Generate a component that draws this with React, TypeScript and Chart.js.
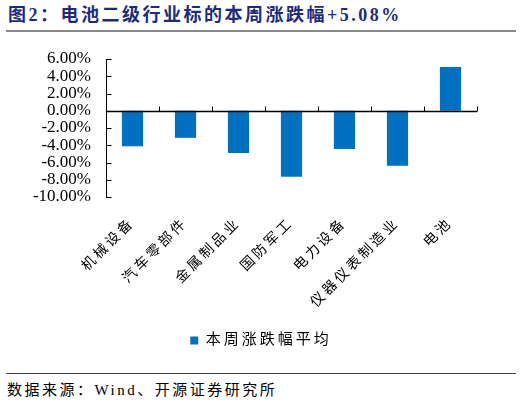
import { useEffect, useRef } from "react";
import { Chart, registerables } from "chart.js";

Chart.register(...registerables);

// data
const categories = ["机械设备", "汽车零部件", "金属制品业", "国防军工", "电力设备", "仪器仪表制造业", "电池"];
const weeklyChange = [-4.12, -3.14, -4.9, -7.65, -4.43, -6.39, 5.08];
const seriesLabel = "本周涨跌幅平均";
const yMin = -10;
const yMax = 6;
const yStep = 2;

const cjkFont = "'Liberation Serif', 'Noto Sans CJK SC', serif";

// spaced text for x labels + legend, plain for y labels; axis lines and inward tick marks
const axisMarks = {
    id: "axisMarks",
    beforeLayout(chart: any) {
        chart.ctx.letterSpacing = "3px";
    },
    beforeDraw(chart: any) {
        chart.ctx.letterSpacing = "3px";
    },
    afterDatasetsDraw(chart: any) {
        chart.ctx.letterSpacing = "0px";
    },
    afterDraw(chart: any) {
        const { ctx, chartArea } = chart;
        const x = chart.scales.x;
        const y = chart.scales.y;
        const left = Math.round(chartArea.left) + 0.5;
        const y0 = Math.round(y.getPixelForValue(0)) + 0.5;
        ctx.save();
        ctx.strokeStyle = "#000";
        ctx.lineWidth = 1;
        ctx.beginPath();
        ctx.moveTo(left, Math.round(y.getPixelForValue(yMax)));
        ctx.lineTo(left, Math.round(y.getPixelForValue(yMin)) + 1);
        y.ticks.forEach((t: any) => {
            const py = Math.round(y.getPixelForValue(t.value)) + 0.5;
            ctx.moveTo(left, py);
            ctx.lineTo(left + 5, py);
        });
        const n = categories.length;
        for (let i = 0; i < n; i++) {
            const bx = i < n - 1
                ? (x.getPixelForValue(i) + x.getPixelForValue(i + 1)) / 2
                : chartArea.right;
            const px = Math.round(bx) + 0.5;
            ctx.moveTo(px, y0);
            ctx.lineTo(px, y0 - 5);
        }
        ctx.stroke();
        ctx.lineWidth = 1.5;
        ctx.beginPath();
        ctx.moveTo(left, y0);
        ctx.lineTo(chartArea.right, y0);
        ctx.stroke();
        ctx.restore();
    },
};

export const App = () => {
    const canvasRef: any = useRef(null);

    useEffect(() => {
        const ctx = canvasRef.current.getContext("2d");
        const myChart = new Chart(ctx, {
            type: "bar",
            data: {
                labels: categories,
                datasets: [{
                    label: seriesLabel,
                    data: weeklyChange,
                    backgroundColor: "#0070C0",
                    borderWidth: 0,
                    categoryPercentage: 1,
                    barPercentage: 0.4,
                }],
            },
            options: {
                animation: false,
                responsive: false,
                layout: {
                    padding: { left: 0, right: 0, top: 24, bottom: 0 },
                },
                scales: {
                    x: {
                        grid: { display: false, drawTicks: false },
                        border: { display: false },
                        ticks: {
                            autoSkip: false,
                            maxRotation: 45,
                            minRotation: 45,
                            padding: 18,
                            color: "#000",
                            font: { family: cjkFont, size: 14 },
                        },
                        afterFit: (s: any) => {
                            s.height = 126;
                        },
                    },
                    y: {
                        min: yMin,
                        max: yMax,
                        grid: { display: false, drawTicks: false },
                        border: { display: false },
                        ticks: {
                            z: 1,
                            autoSkip: false,
                            stepSize: yStep,
                            padding: 15,
                            color: "#000",
                            font: { family: "'Liberation Serif', serif", size: 17, lineHeight: 1 },
                            callback: (v: any) => Number(v).toFixed(2) + "%",
                        },
                        afterFit: (s: any) => {
                            s.width = 106;
                        },
                    },
                    // empty right-hand strip so the legend stays centred on the page
                    yRight: {
                        type: "linear",
                        position: "right",
                        grid: { display: false, drawTicks: false },
                        border: { display: false },
                        ticks: { display: false },
                        afterFit: (s: any) => {
                            s.width = 45;
                        },
                    },
                },
                plugins: {
                    legend: {
                        position: "bottom",
                        labels: {
                            boxWidth: 8,
                            boxHeight: 8,
                            padding: 10,
                            color: "#000",
                            font: { family: cjkFont, size: 15 },
                        },
                    },
                    tooltip: { enabled: false },
                },
            },
            plugins: [axisMarks],
        });

        return () => {
            myChart.destroy();
        };
    }, []);

    return (
        <div style={{ position: "absolute", left: 0, top: 0, width: 522, height: 405, background: "#fff", fontFamily: cjkFont, color: "#000" }}>
            <div style={{ position: "absolute", left: 8, top: 3, fontSize: 18, lineHeight: "24px", fontWeight: "bold", color: "#1c2b7f", letterSpacing: "2.5px", whiteSpace: "nowrap" }}>
                图2：电池二级行业标的本周涨跌幅+5.08%
            </div>
            <div style={{ position: "absolute", left: 6, top: 30, width: 510, height: 2, background: "#8a8a8a" }} />
            <canvas ref={canvasRef} width={522} height={323} style={{ position: "absolute", left: 0, top: 35 }}></canvas>
            <div style={{ position: "absolute", left: 6, top: 373, width: 510, height: 1, background: "#444" }} />
            <div style={{ position: "absolute", left: 7, top: 380, fontSize: 15, lineHeight: "20px", letterSpacing: "2.5px", whiteSpace: "nowrap" }}>
                数据来源：Wind、开源证券研究所
            </div>
        </div>
    );
};

export default App;
